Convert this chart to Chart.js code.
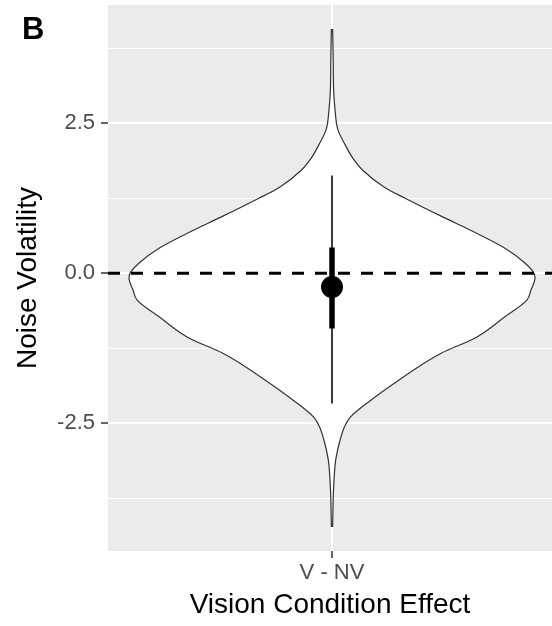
<!DOCTYPE html>
<html>
<head>
<meta charset="utf-8">
<title>Noise Volatility</title>
<script src="https://cdn.jsdelivr.net/npm/chart.js@4.4.0/dist/chart.umd.min.js"></script>
<style>
  html, body { margin: 0; padding: 0; background: #fff; overflow: hidden; }
  #wrap { position: relative; width: 552px; height: 626px; }
  #panelTag {
    position: absolute; left: 22px; top: 13px;
    font: bold 31px "Liberation Sans", Arial, sans-serif;
    line-height: 32px; color: #000;
  }
</style>
</head>
<body>
<div id="wrap">
  <canvas id="myChart" width="552" height="626"></canvas>
  <div id="panelTag">B</div>
</div>
<script>
// category on the x axis
const conditions = ['V - NV'];

// violin outline: posterior value and half width (1 = widest point)
const violinY = [4.07, 3.55, 3.05, 2.72, 2.50, 2.38, 2.17, 1.93, 1.72, 1.43, 1.25, 0.93, 0.72, 0.42, 0.17, 0.00,
  -0.08, -0.28, -0.45, -0.73, -1.07, -1.33, -1.53, -1.78, -2.12, -2.40, -2.57, -2.78, -3.12, -3.57, -4.23];
const violinW = [0.003, 0.006, 0.008, 0.015, 0.022, 0.03, 0.06, 0.10, 0.15, 0.26, 0.36, 0.55, 0.68, 0.85, 0.95, 0.995,
  1.0, 0.98, 0.96, 0.85, 0.71, 0.54, 0.44, 0.33, 0.19, 0.09, 0.06, 0.04, 0.018, 0.008, 0.003];

// point estimate with inner and outer intervals
const estimate = -0.23;
const innerInterval = [-0.92, 0.43];
const outerInterval = [-2.17, 1.63];

// y axis ticks (labelled ones are the majors)
const yTicks = [-3.75, -2.5, -1.25, 0, 1.25, 2.5, 3.75];
const yMajor = [-2.5, 0, 2.5];

const xMin = -1.1034, xMax = 1.0837;
const fontFamily = '"Liberation Sans", Arial, sans-serif';

const leftSide = violinY.map((y, i) => ({ x: -violinW[i], y: y }));
const rightSide = violinY.map((y, i) => ({ x: violinW[i], y: y }));

// grey ggplot-style panel behind the plot area
const panelBg = {
  id: 'panelBg',
  beforeDraw(chart) {
    const a = chart.chartArea;
    const ctx = chart.ctx;
    ctx.save();
    ctx.fillStyle = '#EBEBEB';
    ctx.fillRect(a.left, a.top, a.right - a.left, a.bottom - a.top);
    ctx.restore();
  }
};

function isMajor(c) {
  return c.tick && yMajor.includes(c.tick.value);
}

const ctx = document.getElementById('myChart').getContext('2d');
const myChart = new Chart(ctx, {
  type: 'line',
  data: {
    datasets: [
      {
        data: leftSide, borderColor: '#333', borderWidth: 1.2, pointRadius: 0,
        backgroundColor: '#fff', fill: '+1', cubicInterpolationMode: 'monotone', order: 6
      },
      {
        data: rightSide, borderColor: '#333', borderWidth: 1.2, pointRadius: 0,
        fill: false, cubicInterpolationMode: 'monotone', order: 5
      },
      {
        // zero reference line
        data: [{ x: xMin, y: 0 }, { x: xMax, y: 0 }], borderColor: '#000', borderWidth: 3,
        borderDash: [12, 11], pointRadius: 0, fill: false, order: 4
      },
      {
        data: [{ x: 0, y: outerInterval[1] }, { x: 0, y: outerInterval[0] }], borderColor: '#1a1a1a',
        borderWidth: 1.7, pointRadius: 0, fill: false, order: 3
      },
      {
        data: [{ x: 0, y: innerInterval[1] }, { x: 0, y: innerInterval[0] }], borderColor: '#000',
        borderWidth: 5.5, pointRadius: 0, fill: false, order: 2
      },
      {
        data: [{ x: 0, y: estimate }], showLine: false, pointRadius: 11,
        pointBackgroundColor: '#000', pointBorderWidth: 0, order: 1
      }
    ]
  },
  options: {
    responsive: false,
    animation: false,
    indexAxis: 'y',
    layout: { autoPadding: false, padding: { top: 5, right: 0, left: 0, bottom: 0 } },
    plugins: { legend: { display: false }, tooltip: { enabled: false } },
    scales: {
      x: {
        type: 'linear', min: xMin, max: xMax,
        afterBuildTicks: s => { s.ticks = [{ value: 0 }]; },
        afterFit: s => { s.height = 75; s.paddingLeft = 0; s.paddingRight = 0; },
        border: { display: false },
        grid: { color: '#fff', lineWidth: 2, tickColor: '#333', tickLength: 7, tickWidth: 1.5 },
        ticks: {
          callback: () => conditions[0], padding: 2, color: '#4D4D4D',
          font: { family: fontFamily, size: 22 }, maxRotation: 0
        },
        title: {
          display: true, text: 'Vision Condition Effect', color: '#000',
          font: { family: fontFamily, size: 28 }, padding: { top: 0, bottom: 4 }
        }
      },
      y: {
        type: 'linear', min: -4.63, max: 4.47,
        afterBuildTicks: s => { s.ticks = yTicks.map(v => ({ value: v })); },
        afterFit: s => { s.width = 108; s.paddingTop = 0; s.paddingBottom = 0; },
        border: { display: false },
        grid: {
          color: '#fff',
          lineWidth: c => isMajor(c) ? 2 : 1,
          tickColor: c => isMajor(c) ? '#333' : 'rgba(0,0,0,0)',
          tickLength: 7, tickWidth: 1.5
        },
        ticks: {
          callback: v => yMajor.includes(v) ? v.toFixed(1) : '',
          padding: 6, color: '#4D4D4D', font: { family: fontFamily, size: 22 }
        },
        title: {
          display: true, text: 'Noise Volatility', color: '#000',
          font: { family: fontFamily, size: 28 }, padding: { top: 11, bottom: 0 }
        }
      }
    }
  },
  plugins: [panelBg]
});
</script>
</body>
</html>
